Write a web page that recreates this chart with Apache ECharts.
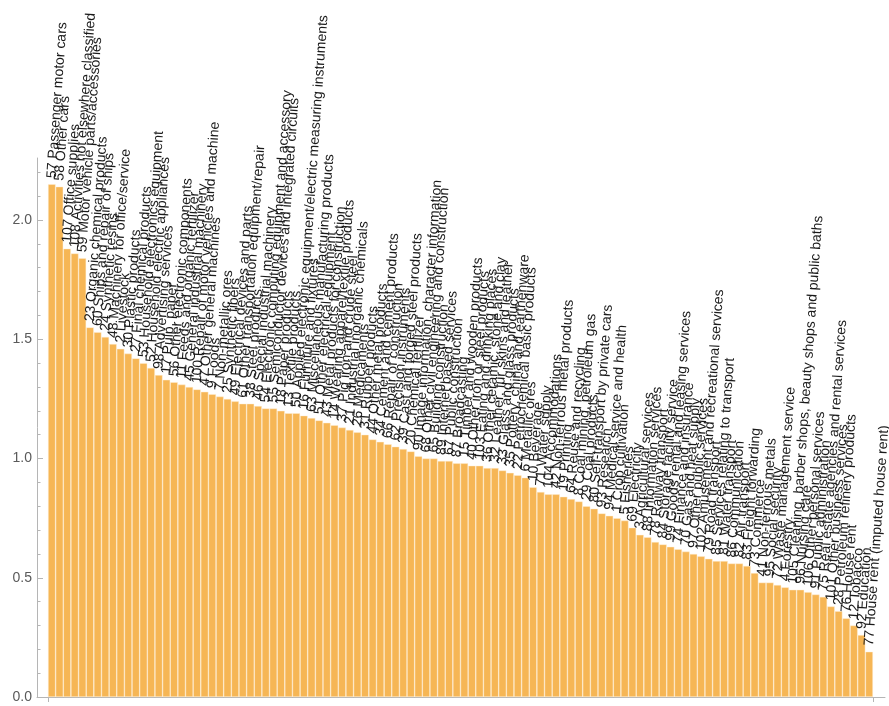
<!DOCTYPE html>
<html>
<head>
<meta charset="utf-8">
<script src="https://cdn.jsdelivr.net/npm/echarts@6/dist/echarts.min.js"></script>
<style>
  html, body { margin: 0; padding: 0; background: #ffffff; }
  #chart { width: 889px; height: 706px; }
</style>
</head>
<body>
<div id="chart"></div>
<script>
// Sector codes and names, ordered by value (largest first)
const sectorCodes = [
  57, 58, 107, 108, 59, 23, 60, 24, 48, 2,
  30, 27, 53, 52, 98, 17, 56, 11, 45, 100,
  47, 9, 7, 25, 49, 61, 38, 46, 54, 55,
  18, 13, 50, 16, 63, 51, 43, 14, 37, 21,
  26, 31, 44, 34, 66, 62, 39, 20, 90, 68,
  65, 89, 67, 87, 15, 40, 103, 36, 32, 33,
  35, 22, 6, 10, 71, 104, 42, 19, 64, 8,
  29, 80, 93, 94, 1, 5, 69, 3, 88, 78,
  84, 99, 74, 70, 97, 102, 79, 85, 81, 86,
  82, 83, 73, 41, 95, 72, 4, 105, 96, 106,
  91, 75, 101, 28, 76, 12, 92, 77
];
const sectorNames = [
  "Passenger motor cars", "Other cars", "Office supplies", "Activities not elsewhere classified",
  "Motor vehicle parts/accessories", "Organic chemical products", "Ships and repair of ships",
  "Synthetic resins", "Machinery for office/service", "Livestock",
  "Plastic products", "Final chemical products", "Household electronics equipment",
  "Household electric appliances", "Advertising services", "Pulp, paper",
  "Other electronic components", "Feeds and organic fertilizer", "General industrial machinery",
  "Repair of motor vehicles and machine",
  "Other general machines", "Foods", "Non-metallic ores", "Synthetic fibers",
  "Electrical devices and parts", "Other transportation equipment/repair", "Steel products",
  "Special industrial machinery", "Electronic computing equipment and accessory",
  "Semiconductor devices and integrated circuits",
  "Paper products", "Textile products", "Applied electronic equipment/electric measuring instruments",
  "Furniture and fixtures", "Miscellaneous manufacturing products", "Other electrical equipment",
  "Metal products for construction", "Wearing apparel/textile products", "Pig iron and crude steel",
  "Industrial inorganic chemicals",
  "Medicaments", "Rubber products", "Other metal products", "Cement and cement products",
  "Repair of construction", "Precision instruments", "Cast and forged steel products",
  "Chemical fertilizer", "Image information, character information", "Other civil engineering and construction",
  "Building construction", "Internet based services", "Public construction", "Broadcasting",
  "Timber and wooden products", "Other iron or steel products", "Eating and drinking places",
  "Other ceramic, stone and clay", "Leather, fur skins and leather", "Glass and glass products",
  "Pottery, china and earthenware", "Petrochemical basic products", "Metallic ores", "Beverage",
  "Water supply", "Accommodations", "Non-ferrous metal products", "Printing", "Reuse and recycling",
  "Coal mining, petroleum gas",
  "Coal products", "Self-transport by private cars", "Research", "Medical service and health",
  "Crop cultivation", "Fisheries", "Electricity", "Agricultural services", "Information services",
  "Railway transport",
  "Storage facility service", "Goods rental and leasing services", "Finance and insurance",
  "Gas and heat supply", "Other public services", "Amusement and recreational services",
  "Road transport", "Services relating to transport", "Water transport", "Communication",
  "Air transport", "Freight forwarding", "Commerce", "Non-ferrous metals", "Social security",
  "Waste management service", "Forestry", "Cleaning, barber shops, beauty shops and public baths",
  "Nursing care", "Other personal services",
  "Public administration", "Real estate agencies and rental services", "Other business services",
  "Petroleum refinery products", "House rent", "Tobacco", "Education", "House rent (imputed house rent)"
];
const linkageValues = [
  2.15, 2.14, 1.88, 1.86, 1.84, 1.55, 1.53, 1.51, 1.48, 1.46,
  1.44, 1.42, 1.40, 1.38, 1.35, 1.33, 1.32, 1.31, 1.30, 1.29,
  1.28, 1.27, 1.26, 1.25, 1.24, 1.23, 1.23, 1.22, 1.21, 1.21,
  1.20, 1.19, 1.19, 1.18, 1.17, 1.16, 1.15, 1.14, 1.13, 1.12,
  1.11, 1.10, 1.08, 1.07, 1.06, 1.05, 1.04, 1.03, 1.01, 1.00,
  1.00, 0.99, 0.99, 0.98, 0.98, 0.97, 0.97, 0.96, 0.96, 0.95,
  0.94, 0.93, 0.92, 0.88, 0.86, 0.85, 0.85, 0.84, 0.83, 0.82,
  0.80, 0.79, 0.77, 0.76, 0.75, 0.74, 0.71, 0.68, 0.67, 0.65,
  0.64, 0.63, 0.62, 0.61, 0.60, 0.59, 0.58, 0.57, 0.57, 0.56,
  0.56, 0.55, 0.52, 0.48, 0.48, 0.47, 0.46, 0.45, 0.45, 0.44,
  0.43, 0.42, 0.38, 0.36, 0.33, 0.30, 0.26, 0.19
];
const yTickValues = [0, 0.5, 1.0, 1.5, 2.0];
const yMax = 2.26;

const categories = sectorCodes.map((c, i) => c + ' ' + sectorNames[i]);

// minor ticks every 0.1 between the labelled ones
const minorTickValues = [];
for (let k = 1; k / 10 <= yMax + 1e-9; k++) {
  if (k % 5 !== 0) minorTickValues.push(k / 10);
}

const FONT = "'Liberation Sans', Arial, Helvetica, sans-serif";
const AXIS_GREY = '#b5b5b5';
const TOP = 158, BOTTOM = 9;

const chart = echarts.init(document.getElementById('chart'), null, { renderer: 'canvas' });
chart.setOption({
  animation: false,
  backgroundColor: '#ffffff',
  grid: [
    { left: 48, right: 16, top: TOP, bottom: BOTTOM },   // bars
    { left: 37, right: 4, top: TOP, bottom: BOTTOM }     // axes frame
  ],
  xAxis: [
    {
      type: 'category', gridIndex: 0, data: categories,
      axisLine: { show: false },
      axisLabel: { show: false },
      axisTick: { show: true, interval: (i) => i === 0, length: 5, lineStyle: { color: AXIS_GREY } },
      splitLine: { show: false }
    },
    {
      type: 'value', gridIndex: 1, min: 0, max: 1,
      axisLine: { show: true, lineStyle: { color: AXIS_GREY, width: 1 } },
      axisTick: { show: false }, axisLabel: { show: false }, splitLine: { show: false }
    }
  ],
  yAxis: [
    { type: 'value', gridIndex: 0, min: 0, max: yMax, show: false },
    {
      type: 'value', gridIndex: 1, min: 0, max: yMax, position: 'left',
      axisLine: { show: true, lineStyle: { color: AXIS_GREY, width: 1 } },
      axisTick: { show: true, inside: true, length: 6, customValues: yTickValues, lineStyle: { color: AXIS_GREY } },
      axisLabel: {
        customValues: yTickValues, formatter: (v) => v.toFixed(1),
        color: '#5a5a5a', fontSize: 14, fontFamily: FONT, margin: 5
      },
      splitLine: { show: false }
    },
    {
      type: 'value', gridIndex: 1, min: 0, max: yMax, position: 'left',
      axisLine: { show: false },
      axisTick: { show: true, inside: true, length: 3.5, customValues: minorTickValues, lineStyle: { color: AXIS_GREY } },
      axisLabel: { show: false },
      splitLine: { show: false }
    }
  ],
  series: [{
    type: 'bar',
    xAxisIndex: 0, yAxisIndex: 0,
    data: linkageValues,
    barCategoryGap: '0%',
    itemStyle: { color: '#F6B655', borderColor: 'rgba(255,240,215,0.75)', borderWidth: 0.6 },
    label: {
      show: true,
      position: 'top',
      distance: 6,
      rotate: 86,
      align: 'left',
      verticalAlign: 'middle',
      formatter: (p) => p.name,
      fontSize: 14,
      color: '#1a1a1a',
      fontFamily: FONT
    },
    labelLayout: { hideOverlap: false }
  }]
});
</script>
</body>
</html>
